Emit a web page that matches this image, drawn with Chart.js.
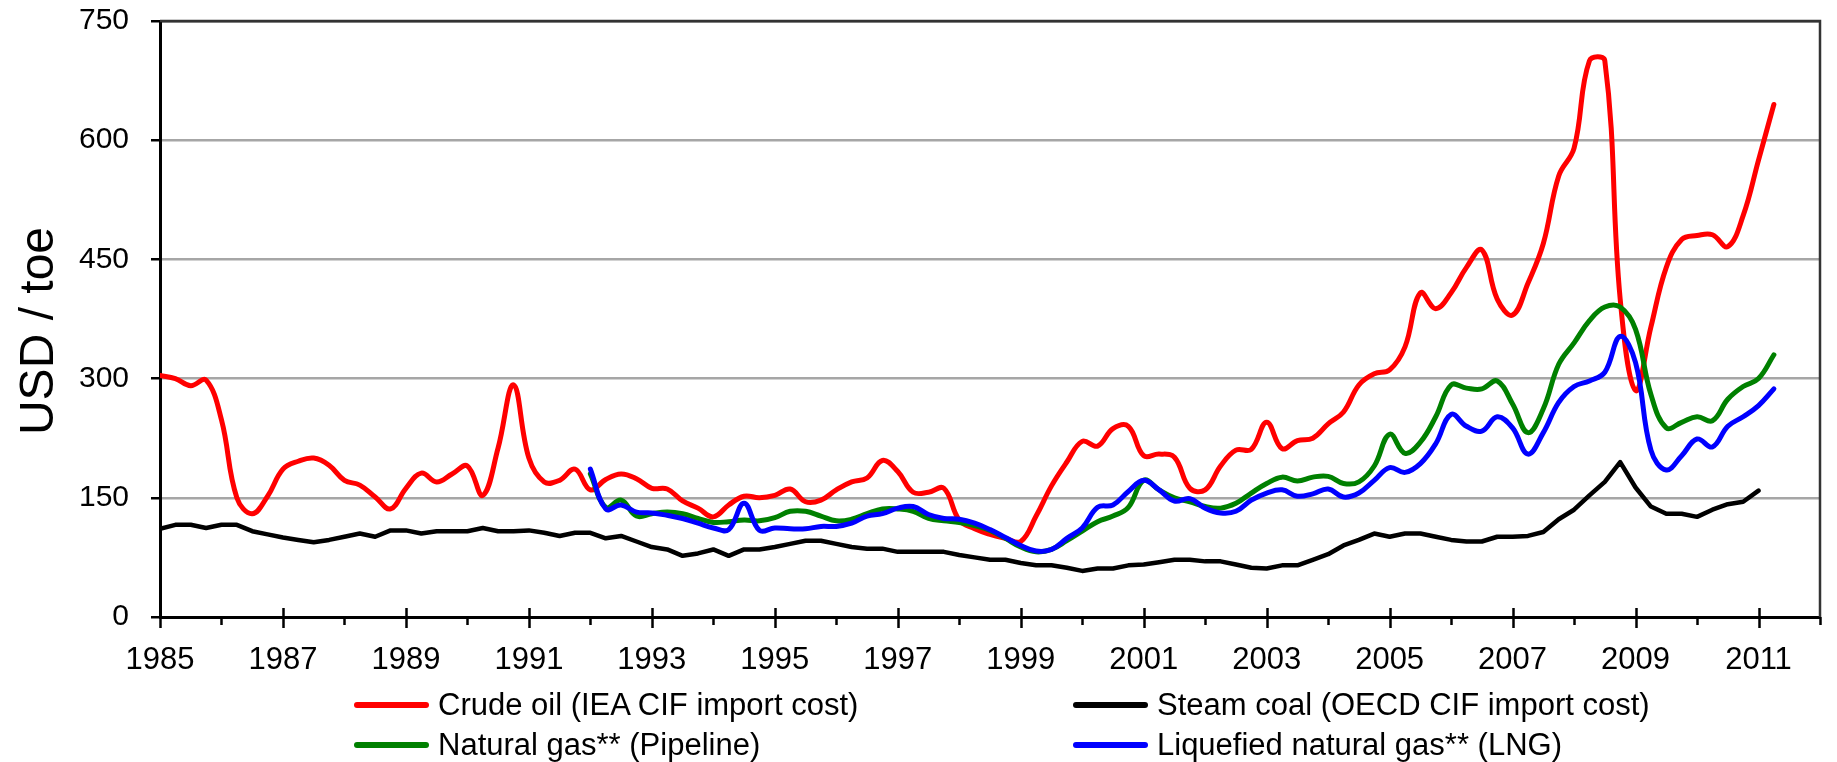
<!DOCTYPE html>
<html><head><meta charset="utf-8">
<script src="https://cdn.jsdelivr.net/npm/chart.js@4.4.1/dist/chart.umd.min.js"></script>
<style>
html,body{margin:0;padding:0;background:#fff;}
#wrap{position:relative;width:1837px;height:762px;background:#fff;}
#legend{position:absolute;left:0;top:0;width:1837px;height:762px;pointer-events:none;font-family:"Liberation Sans",Arial,sans-serif;font-size:31px;color:#000;}
.li{position:absolute;display:flex;align-items:center;white-space:nowrap;height:40px;}
.sw{display:inline-block;width:75px;height:6px;border-radius:3px;margin-right:9px;}
#ytitle{position:absolute;left:-163px;top:301px;width:400px;height:60px;line-height:60px;text-align:center;transform:rotate(-90deg);font-family:"Liberation Sans",Arial,sans-serif;font-size:48px;color:#000;white-space:nowrap;}
</style></head><body>
<div id="wrap"><canvas id="c" width="1837" height="762"></canvas><div id="ytitle"></div><div id="legend"></div></div>
<script>
// ---- data (quarterly, USD / toe) ----
const firstYear = 1985;
const gasStartYear = 1992;
const yTicks = [0, 150, 300, 450, 600, 750];
const xLabelYears = [1985,1987,1989,1991,1993,1995,1997,1999,2001,2003,2005,2007,2009,2011];
const yAxisTitle = "USD / toe";

const seriesNames = [
  "Crude oil (IEA CIF import cost)",
  "Steam coal (OECD CIF import cost)",
  "Natural gas** (Pipeline)",
  "Liquefied natural gas** (LNG)"
];
const seriesColors = ["#ff0000", "#000000", "#008000", "#0000ff"];

// 1985Q1 .. 2011Q2
const crudeOil = [
  304,300,291,298, 248,150,130,152, 186,196,200,191, 172,166,151,136,
  162,181,170,180, 190,153,213,292, 200,170,172,186, 160,173,180,174,
  162,161,146,137, 126,141,152,150, 153,161,145,147, 160,170,175,197,
  183,157,157,162, 122,111,104,99, 95,127,165,195, 221,215,237,240,
  203,205,201,162, 160,190,210,211, 245,212,222,225, 243,258,292,306,
  311,340,408,388, 408,440,462,400, 380,420,470,555, 590,700,700,400,
  285,365,440,475, 480,481,466,505, 575,645
];
// 1985Q1 .. 2011Q1
const steamCoal = [
  111,116,116,112, 116,116,108,104, 100,97,94,97, 101,105,101,109,
  109,105,108,108, 108,112,108,108, 109,106,102,106, 106,99,102,95,
  88,85,77,80, 85,77,85,85, 88,92,96,96, 92,88,86,86,
  82,82,82,82, 78,75,72,72, 68,65,65,62, 58,61,61,65,
  66,69,72,72, 70,70,66,62, 61,65,65,72, 79,90,97,105,
  101,105,105,101, 97,95,95,101, 101,102,107,123, 135,153,170,195,
  163,139,130,130, 126,135,142,145, 159
];
// 1992Q1 .. 2011Q2
const pipelineGas = [
  180,138,147,127, 130,132,130,124, 119,120,122,121, 125,133,133,127,
  121,123,130,136, 136,133,124,121, 119,115,109,99, 88,82,85,96,
  108,120,127,138, 172,160,150,145, 139,137,143,156, 168,176,171,176,
  177,168,170,190, 230,206,220,252, 292,288,287,297, 268,232,262,318,
  345,373,390,390, 362,280,238,245, 252,247,274,290, 300,330
];
// 1992Q1 .. 2011Q2
const lngGas = [
  186,136,141,132, 131,128,124,118, 112,110,143,109, 112,111,111,114,
  114,118,127,130, 137,139,129,124, 123,118,110,100, 90,83,85,99,
  112,138,141,158, 172,160,146,149, 137,131,133,147, 156,160,152,155,
  161,151,156,172, 188,182,193,218, 255,240,234,252, 238,205,232,270,
  290,297,308,353, 320,210,185,203, 224,214,240,252, 266,287
];

function toPoints(values, startYear){
  return values.map((v,i)=>({x:startYear + i*0.25, y:v}));
}

const FONT = '"Liberation Sans", Arial, sans-serif';

const framePlugin = {
  id:'frame',
  afterDraw(chart){
    const {ctx, chartArea:a, scales:{x}} = chart;
    ctx.save();
    ctx.strokeStyle = '#000'; ctx.lineWidth = 2.5;
    for (let yr = 1985; yr <= 2012; yr++){
      const px = Math.round(x.getPixelForValue(yr)) + 0.5;
      const major = (yr - 1985) % 2 === 0;
      ctx.beginPath();
      ctx.moveTo(px, major ? a.bottom - 9 : a.bottom);
      ctx.lineTo(px, major ? a.bottom + 11 : a.bottom + 8);
      ctx.stroke();
    }
    ctx.strokeStyle = '#333'; ctx.lineWidth = 2.5;
    ctx.beginPath();
    ctx.moveTo(a.left, a.top); ctx.lineTo(a.right, a.top); ctx.lineTo(a.right, a.bottom);
    ctx.stroke();
    ctx.restore();
  }
};

const datasets = [
  {label:seriesNames[0], data:toPoints(crudeOil, firstYear), borderColor:seriesColors[0], borderWidth:5, tension:0.4, order:4},
  {label:seriesNames[1], data:toPoints(steamCoal, firstYear), borderColor:seriesColors[1], borderWidth:4.5, tension:0, order:1},
  {label:seriesNames[2], data:toPoints(pipelineGas, gasStartYear), borderColor:seriesColors[2], borderWidth:5, tension:0.4, order:3},
  {label:seriesNames[3], data:toPoints(lngGas, gasStartYear), borderColor:seriesColors[3], borderWidth:5, tension:0.4, order:2}
];
datasets.forEach(d=>{d.pointRadius=0; d.fill=false; d.borderCapStyle='round'; d.borderJoinStyle='round';});

new Chart(document.getElementById('c'), {
  type:'line',
  data:{datasets},
  options:{
    responsive:false, animation:false, devicePixelRatio:1,
    layout:{padding:{left:0, right:6, top:21, bottom:0}},
    plugins:{legend:{display:false}, tooltip:{enabled:false}},
    scales:{
      x:{
        type:'linear', min:1985, max:2012,
        afterFit(s){ s.height = 145; },
        grid:{display:false},
        border:{display:true, color:'#000', width:3},
        ticks:{
          stepSize:1, autoSkip:false, maxRotation:0, padding:17,
          color:'#000', font:{family:FONT, size:31},
          callback:(v)=> xLabelYears.includes(v) ? String(v) : ''
        }
      },
      y:{
        min:0, max:750,
        afterFit(s){ s.width = 160; s.paddingTop = 0; s.paddingBottom = 0; },
        afterBuildTicks(s){ s.ticks = yTicks.map(v=>({value:v})); },
        border:{display:true, color:'#000', width:3},
        grid:{
          color:(c)=> c.tick && c.tick.value === 750 ? '#333' : '#a6a6a6',
          lineWidth:2.5, tickLength:9, tickColor:'#000', tickWidth:2.5
        },
        ticks:{padding:22, color:'#000', font:{family:FONT, size:30}},
        title:{display:false}
      }
    }
  },
  plugins:[framePlugin]
});

document.getElementById('ytitle').textContent = yAxisTitle;

// HTML legend (two aligned columns, built from the dataset names/colours)
const legendPos = [
  {left:354, top:685}, {left:1073, top:685},
  {left:354, top:725}, {left:1073, top:725}
];
const leg = document.getElementById('legend');
seriesNames.forEach((name,i)=>{
  const d = document.createElement('div');
  d.className = 'li';
  d.style.left = legendPos[i].left + 'px';
  d.style.top = legendPos[i].top + 'px';
  const sw = document.createElement('span');
  sw.className = 'sw'; sw.style.background = seriesColors[i];
  const t = document.createElement('span');
  t.textContent = name;
  d.appendChild(sw); d.appendChild(t);
  leg.appendChild(d);
});
</script>
</body></html>
